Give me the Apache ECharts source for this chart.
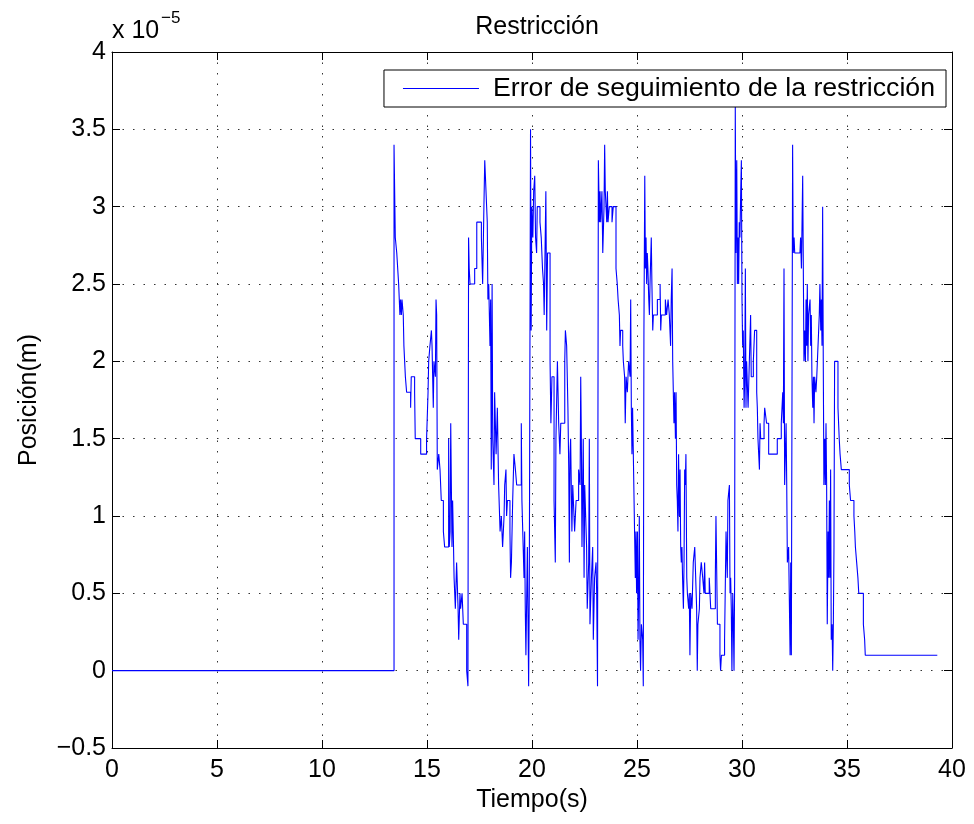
<!DOCTYPE html>
<html>
<head>
<meta charset="utf-8">
<script src="https://cdn.jsdelivr.net/npm/echarts@6/dist/echarts.min.js"></script>
<style>html,body{margin:0;padding:0;background:#fff}#c{width:974px;height:824px}</style>
</head>
<body>
<div id="c"></div>
<script>
// Time (s) and constraint tracking error (units of 1e-5 m); value holds until next time
const times = [
0,13.43,13.49,13.56,13.65,13.68,13.71,13.74,13.78,13.81,13.87,13.90,13.97,14.03,14.22,14.25,14.41,14.44,14.70,14.98,
15.05,15.08,15.14,15.21,15.24,15.30,15.33,15.40,15.43,15.46,15.49,15.56,15.62,15.68,15.78,15.84,16.03,16.06,16.10,16.13,
16.19,16.22,16.25,16.29,16.35,16.41,16.48,16.51,16.57,16.60,16.67,16.73,16.76,16.89,16.95,16.98,
17.01,17.05,17.27,17.37,17.59,17.65,17.71,17.75,17.78,17.84,17.87,17.90,17.94,18.00,18.03,18.06,18.10,18.13,18.19,18.22,
18.29,18.35,18.41,18.48,18.54,18.60,18.67,18.70,18.76,18.79,18.83,18.95,18.98,19.02,19.08,19.14,19.21,19.27,19.49,19.52,
19.56,19.62,19.65,19.68,19.71,19.78,19.84,19.87,19.93,19.96,19.99,20.04,20.08,20.13,20.17,20.22,20.25,20.38,20.44,20.50,
20.55,20.58,20.61,20.66,20.70,20.74,20.86,20.90,20.95,
21.05,21.11,21.14,21.21,21.24,21.27,21.33,21.37,21.56,21.59,21.65,21.68,21.71,21.75,21.78,21.81,21.84,21.90,21.94,22.03,
22.10,22.22,22.29,22.32,22.35,22.38,22.44,22.48,22.51,22.60,22.63,22.70,22.73,22.76,22.83,22.89,22.92,22.98,23.05,23.08,
23.12,23.16,23.21,23.24,23.27,23.33,23.37,23.43,23.46,23.49,23.56,23.59,23.62,23.68,23.81,23.87,24.00,24.06,24.10,24.16,
24.19,24.22,24.32,24.35,24.41,24.44,24.48,24.54,24.60,24.67,24.70,24.73,24.76,24.79,24.86,24.92,
24.95,24.98,25.02,25.05,25.08,25.11,25.14,25.17,25.21,25.27,25.30,25.33,25.37,25.40,25.43,25.46,25.49,25.52,25.56,25.59,
25.62,25.68,25.71,25.75,25.78,25.97,26.10,26.13,26.16,26.35,26.41,26.48,26.54,26.60,26.63,26.67,26.70,26.76,26.79,26.83,
26.86,26.89,26.92,26.95,26.98,27.02,27.05,27.08,27.11,27.14,27.17,27.21,27.24,27.27,27.30,27.33,27.37,27.40,27.46,27.49,
27.52,27.56,27.62,27.68,27.75,27.84,27.87,27.90,27.97,28.00,28.06,28.13,28.19,28.22,28.25,28.44,28.51,28.73,28.76,28.79,
28.83,
28.86,28.95,28.98,29.02,29.17,29.24,29.30,29.33,29.40,29.43,29.46,29.49,29.52,29.56,29.59,29.62,29.65,29.68,29.71,29.75,
29.78,29.81,29.84,29.87,29.90,29.94,29.97,30.00,30.03,30.06,30.10,30.13,30.16,30.19,30.22,30.29,30.35,30.41,30.44,30.54,
30.60,30.70,30.73,30.76,30.83,30.86,30.89,31.05,31.08,31.17,31.27,31.68,31.87,31.94,31.97,32.00,32.03,32.10,32.13,32.16,
32.22,32.29,32.32,32.35,32.41,32.44,32.48,32.51,
32.76,32.79,32.83,32.89,32.92,32.95,32.98,33.02,33.05,33.08,33.11,33.14,33.17,33.24,33.27,33.30,33.33,33.37,33.40,33.43,
33.46,33.52,33.56,33.59,33.65,33.68,33.71,33.75,33.78,33.81,33.84,33.87,33.90,33.94,33.97,34.00,34.03,34.06,34.10,34.13,
34.16,34.19,34.22,34.25,34.29,34.32,34.35,34.38,34.41,34.57,34.63,34.67,34.73,35.11,35.17,35.33,35.37,35.40,35.46,35.52,
35.56,35.78,35.84,35.87,39.30
];
const values = [
0,3.4,2.8,2.7,2.5,2.4,2.3,2.4,2.3,2.4,2.3,2.1,1.9,1.8,1.7,1.9,1.8,1.5,1.4,1.5,
1.8,2.0,2.1,2.2,2.1,1.7,2.0,1.9,2.4,2.3,1.3,1.4,1.3,1.1,0.9,0.8,1.5,0.8,0.9,1.6,
0.8,1.1,0.9,0.6,0.4,0.7,0.4,0.2,0.5,0.4,0.5,0.3,0.3,0.0,-0.1,2.8,
2.6,2.5,2.6,2.9,2.8,2.5,3.0,3.3,3.2,3.0,2.9,2.4,2.5,2.1,2.4,1.3,2.5,1.5,1.2,1.8,
1.4,1.7,1.2,0.9,1.0,0.8,1.0,1.2,1.3,1.0,1.1,0.9,0.6,0.7,1.1,1.4,1.3,1.2,1.6,1.1,
0.9,0.6,0.9,0.4,0.1,0.8,-0.1,0.5,3.5,2.2,3.0,2.8,3.1,3.2,2.8,2.7,3.0,2.9,2.8,2.6,
2.5,2.3,2.6,3.1,2.2,2.7,2.0,1.6,1.9,
1.1,0.7,1.5,2.0,1.8,1.6,1.4,1.6,2.0,2.2,2.1,1.9,1.7,1.3,0.7,1.4,1.5,0.9,1.2,0.9,
1.1,1.3,1.2,1.9,1.5,0.8,1.5,0.6,1.2,0.8,0.4,0.7,1.5,0.3,0.6,0.8,0.2,0.6,0.7,0.5,
-0.1,3.3,2.9,3.1,2.9,3.1,2.7,3.0,3.4,3.1,2.9,3.1,2.9,3.0,2.9,3.0,2.6,2.5,2.4,2.3,
2.1,2.2,2.1,2.0,1.9,1.6,1.9,1.8,2.0,1.9,2.4,1.7,1.4,1.7,1.1,0.6,
0.9,0.5,0.9,0.2,0.5,1.0,0.2,0.0,0.3,0.2,-0.1,2.2,3.2,2.6,2.8,2.5,2.7,2.6,2.4,2.3,
2.5,2.8,2.5,2.2,2.3,2.4,2.5,2.2,2.3,2.4,2.3,2.4,2.3,2.1,2.4,2.6,2.0,1.6,1.8,1.5,
1.8,1.2,1.1,0.9,1.4,1.0,1.3,0.8,0.7,0.8,0.6,0.4,0.7,1.3,1.2,1.4,0.6,0.5,0.4,0.5,
0.1,0.5,0.4,0.7,0.8,0.4,0.0,0.3,0.4,0.6,0.7,0.6,0.5,0.7,0.5,0.6,0.4,0.6,1.0,0.7,
0.3,
0.3,0.1,0.0,0.1,0.2,0.9,0.6,1.1,1.2,0.5,0.6,0.4,0.0,0.5,0.3,0.0,0.6,3.65,2.7,3.3,
2.5,2.8,2.5,2.9,2.8,3.1,3.3,2.4,2.1,2.2,1.7,1.9,2.6,1.7,2.0,1.7,2.0,2.3,1.9,2.0,
2.2,1.8,1.7,1.5,1.3,1.6,1.5,1.6,1.7,1.6,1.4,1.5,1.6,1.8,1.6,2.6,1.2,1.6,1.2,0.7,
0.8,0.1,0.7,0.1,3.4,2.7,2.8,2.7,
2.7,2.8,2.6,3.2,2.6,2.0,2.2,2.0,2.4,2.1,2.5,2.0,2.3,2.4,2.1,2.3,1.9,1.7,1.9,1.6,
1.9,1.8,1.9,2.0,2.2,2.3,2.5,2.2,2.4,2.1,3.0,2.0,1.2,1.5,1.2,1.6,1.2,0.3,0.9,0.6,
1.1,0.6,1.3,0.2,0.3,0.0,0.3,0.8,2.0,1.7,1.5,1.4,1.3,1.2,1.1,1.0,0.9,0.8,0.7,0.6,
0.5,0.3,0.2,0.1,0.1
];
const xTicks = { min: 0, max: 40, step: 5 };
const yTicks = { min: -0.5, max: 4, step: 0.5 };
const seriesName = 'Error de seguimiento de la restricción';

const FONT = '"Liberation Sans", Arial, Helvetica, sans-serif';
// Build a zero-order-hold (stairs) path from the samples
const data = [];
times.forEach((t, i) => {
  data.push([t, values[i]]);
  if (i + 1 < times.length) data.push([times[i + 1], values[i]]);
});
const chart = echarts.init(document.getElementById('c'), null, { renderer: 'canvas' });
const grid = { left: 112, right: 22, top: 52, bottom: 76 };
const dotted = { show: true, lineStyle: { color: '#333', width: 1, type: [1.5, 9] } };
const tickIn = { show: true, inside: true, length: 8, lineStyle: { color: '#000', width: 1 } };
const axisLine = { show: true, onZero: false, lineStyle: { color: '#000', width: 1 } };
const fmtY = v => (v < 0 ? '\u2212' + String(-v) : String(v));
chart.setOption({
  animation: false,
  backgroundColor: '#fff',
  textStyle: { fontFamily: FONT },
  title: {
    text: 'Restricción', left: 532, top: 10, textAlign: 'center',
    textStyle: { fontFamily: FONT, fontSize: 25, fontWeight: 'normal', color: '#000' }
  },
  grid: grid,
  legend: {
    right: 28, top: 70,
    backgroundColor: '#fff', borderColor: '#000', borderWidth: 1,
    padding: [5, 11, 5, 19],
    itemWidth: 76, itemHeight: 1.2,
    textStyle: { fontFamily: FONT, fontSize: 26.7, color: '#000', padding: [0, 0, 0, 9] },
    data: [{ name: seriesName, icon: 'rect' }]
  },
  xAxis: [
    {
      type: 'value', position: 'bottom', min: xTicks.min, max: xTicks.max, interval: xTicks.step,
      axisLine: axisLine, axisTick: tickIn, splitLine: dotted,
      axisLabel: { fontFamily: FONT, fontSize: 25, color: '#000', margin: 10 },
      name: 'Tiempo(s)', nameLocation: 'middle', nameGap: 40,
      nameTextStyle: { fontFamily: FONT, fontSize: 25, color: '#000' }
    },
    {
      type: 'value', position: 'top', min: xTicks.min, max: xTicks.max, interval: xTicks.step,
      axisLine: axisLine, axisTick: tickIn, splitLine: { show: false }, axisLabel: { show: false }
    }
  ],
  yAxis: [
    {
      type: 'value', position: 'left', min: yTicks.min, max: yTicks.max, interval: yTicks.step,
      axisLine: axisLine, axisTick: tickIn, splitLine: dotted,
      axisLabel: { fontFamily: FONT, fontSize: 25, color: '#000', margin: 6, formatter: fmtY },
      name: 'Posición(m)', nameLocation: 'middle', nameGap: 70, nameRotate: 90,
      nameTextStyle: { fontFamily: FONT, fontSize: 25, color: '#000' }
    },
    {
      type: 'value', position: 'right', min: yTicks.min, max: yTicks.max, interval: yTicks.step,
      axisLine: axisLine, axisTick: tickIn, splitLine: { show: false }, axisLabel: { show: false }
    }
  ],
  graphic: [
    { type: 'text', left: 112, top: 19, style: { text: 'x 10', font: '25px ' + FONT, fill: '#000' } },
    { type: 'text', left: 161, top: 10, style: { text: '\u22125', font: '17px ' + FONT, fill: '#000' } }
  ],
  series: [{
    name: seriesName, type: 'line', xAxisIndex: 0, yAxisIndex: 0,
    symbol: 'none', data: data, sampling: null,
    lineStyle: { color: '#0000ff', width: 1.1 }, itemStyle: { color: '#0000ff' }
  }]
});
</script>
</body>
</html>
